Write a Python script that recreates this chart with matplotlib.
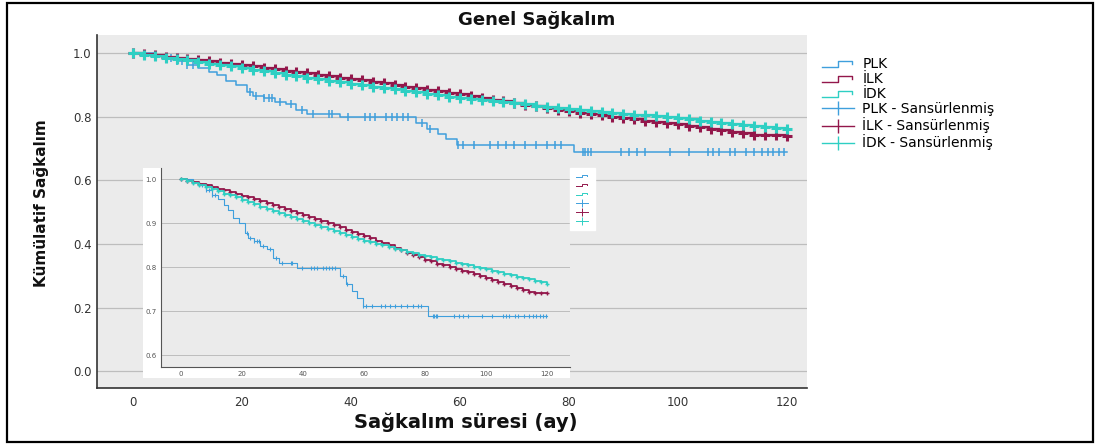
import numpy as np
import matplotlib
matplotlib.use('Agg')
import matplotlib.pyplot as plt
from matplotlib.lines import Line2D
from matplotlib.legend_handler import HandlerBase
from matplotlib.patches import Rectangle

# --- data (months, cumulative survival) ---
months = list(range(0, 121, 2))

ilk_surv = [1.000, 0.996, 0.993, 0.989, 0.986, 0.982, 0.978, 0.974, 0.970, 0.966,
            0.962, 0.958, 0.954, 0.950, 0.945, 0.941, 0.937, 0.932, 0.928, 0.923,
            0.919, 0.914, 0.909, 0.905, 0.900, 0.895, 0.890, 0.885, 0.880, 0.875,
            0.870, 0.865, 0.860, 0.854, 0.849, 0.844, 0.838, 0.833, 0.828, 0.822,
            0.817, 0.813, 0.808, 0.804, 0.800, 0.796, 0.792, 0.788, 0.784, 0.780,
            0.776, 0.771, 0.767, 0.762, 0.758, 0.753, 0.748, 0.744, 0.742, 0.741,
            0.740]

idk_surv = [1.000, 0.995, 0.991, 0.986, 0.982, 0.977, 0.972, 0.967, 0.963, 0.958,
            0.953, 0.948, 0.943, 0.937, 0.932, 0.927, 0.922, 0.918, 0.913, 0.909,
            0.904, 0.899, 0.895, 0.890, 0.886, 0.881, 0.877, 0.872, 0.868, 0.863,
            0.859, 0.856, 0.852, 0.849, 0.845, 0.842, 0.839, 0.835, 0.832, 0.828,
            0.825, 0.822, 0.819, 0.816, 0.813, 0.810, 0.807, 0.804, 0.801, 0.798,
            0.795, 0.792, 0.788, 0.785, 0.781, 0.778, 0.775, 0.772, 0.769, 0.765,
            0.762]

plk_times = [0, 4, 6, 8, 10, 12, 14, 15.5, 17, 19, 21, 22, 24, 26, 28, 30, 32,
             38, 52, 54, 56, 57.5, 59.5, 81]
plk_surv = [1.0, 0.994, 0.986, 0.974, 0.964, 0.954, 0.941, 0.930, 0.911, 0.900,
            0.877, 0.866, 0.859, 0.847, 0.840, 0.821, 0.810, 0.798, 0.780, 0.761,
            0.746, 0.729, 0.712, 0.688]
plk_censored = [7, 8, 9, 10, 11, 21.5, 22.5, 24, 25, 25.5, 27, 29, 31, 33, 36, 36.5,
                39.5, 42.5, 43.5, 44.5, 46.5, 47.5, 48.5, 49.5, 50.5, 53, 54.5,
                59.7, 60.5, 62.5, 65.5, 67, 68.5, 70, 72, 74, 76, 77.5, 78.5,
                82.5, 83, 83.5, 84, 89.5, 91, 92.5, 94, 98.5, 102, 105.5, 106.5,
                107.5, 109.5, 110.5, 112.5, 114, 115.5, 116.5, 117.5, 118.5, 119.5]
plk_end = 120

groups = ['PLK', 'İLK', 'İDK']
colors = ['#3F9FDC', '#93174B', '#2ECFC3']

W, H = 1097, 448


def km_at(t, times, surv):
    idx = np.searchsorted(times, t, side='right') - 1
    return np.asarray(surv)[idx]


def draw_km(ax, small=False):
    lw = 0.8 if small else 1.1
    ms_big = 3 if small else 7
    mew_big = 1.0 if small else 2.2
    ms_plk = 3 if small else 6
    px = np.append(plk_times, plk_end)
    py = np.append(plk_surv, plk_surv[-1])
    ax.step(px, py, where='post', color=colors[0], lw=lw, zorder=3)
    ax.plot(plk_censored, km_at(plk_censored, plk_times, plk_surv), ls='none',
            marker='|', ms=ms_plk, mew=lw, color=colors[0], zorder=3)
    for surv, c in ((ilk_surv, colors[1]), (idk_surv, colors[2])):
        ax.step(months, surv, where='post', color=c, lw=lw + 0.5, zorder=4)
        ax.plot(months, surv, ls='none', marker='+', ms=ms_big, mew=mew_big,
                color=c, zorder=4)


class StepHandler(HandlerBase):
    def create_artists(self, legend, orig_handle, xdescent, ydescent, width,
                       height, fontsize, trans):
        xs = [-xdescent + f * width for f in (0.0, 0.5, 0.5, 0.95, 0.95)]
        ys = [-ydescent + f * height for f in (0.15, 0.15, 0.75, 0.75, 0.45)]
        ln = Line2D(xs, ys, color=orig_handle.get_color(), lw=orig_handle.get_linewidth())
        ln.set_transform(trans)
        return [ln]


def legend_handles(lw, ms):
    steps = [Line2D([], [], color=c, lw=lw) for c in colors]
    cens = [Line2D([], [], color=c, lw=lw, marker='|', ms=ms, mew=lw) for c in colors]
    return steps, cens


fig = plt.figure(figsize=(W / 100, H / 100), dpi=100)
fig.patch.set_facecolor('white')

# main axes
ax = fig.add_axes([97 / W, 1 - 388 / H, (807 - 97) / W, (388 - 35) / H])
ax.set_facecolor('#EBEBEB')
draw_km(ax)
ax.set_xlim(-6.6, 123.7)
ax.set_ylim(-0.053, 1.057)
ax.set_xticks([0, 20, 40, 60, 80, 100, 120])
ax.set_yticks([0.0, 0.2, 0.4, 0.6, 0.8, 1.0])
ax.set_yticklabels(['0.0', '0.2', '0.4', '0.6', '0.8', '1.0'])
ax.tick_params(length=0, labelsize=8.5, labelcolor='#333333')
ax.tick_params(axis='y', pad=4)
ax.tick_params(axis='x', pad=6)
ax.grid(axis='y', color='#BDBDBD', lw=0.9)
ax.set_axisbelow(True)
for s in ('top', 'right'):
    ax.spines[s].set_visible(False)
for s in ('left', 'bottom'):
    ax.spines[s].set_color('#333333')
    ax.spines[s].set_linewidth(1.2)

fig.text(537 / W, 1 - 20 / H, 'Genel Sağkalım', ha='center', va='center',
         fontsize=13, fontweight='bold', color='#111111')
fig.text(466 / W, 1 - 422 / H, 'Sağkalım süresi (ay)', ha='center', va='center',
         fontsize=14, fontweight='bold', color='#111111')
fig.text(42 / W, 1 - 203 / H, 'Kümülatif Sağkalım', ha='center', va='center',
         rotation=90, fontsize=11, fontweight='bold', color='#111111')

steps, cens = legend_handles(1.0, 10)
hmap = {h: StepHandler() for h in steps}
fig.legend(steps + cens, groups + [g + ' - Sansürlenmiş' for g in groups],
           handler_map=hmap, loc='upper left', bbox_to_anchor=(822 / W, 1 - 57 / H),
           frameon=False, borderaxespad=0, borderpad=0, fontsize=10,
           handlelength=2.3, handletextpad=0.6, labelspacing=0.08)

# inset (zoomed copy of the same curves)
fig.add_artist(Rectangle((143 / W, 1 - 378 / H), (570 - 143) / W, (378 - 168) / H,
                         transform=fig.transFigure, facecolor='white',
                         edgecolor='none', zorder=1))
ax_in = fig.add_axes([161 / W, 1 - 367 / H, (570 - 161) / W, (367 - 168) / H])
ax_in.set_zorder(2)
ax_in.set_facecolor('#EBEBEB')
draw_km(ax_in, small=True)
ax_in.set_xlim(-6.6, 127.5)
ax_in.set_ylim(0.573, 1.025)
ax_in.set_xticks([0, 20, 40, 60, 80, 100, 120])
ax_in.set_yticks([0.6, 0.7, 0.8, 0.9, 1.0])
ax_in.set_yticklabels(['0.6', '0.7', '0.8', '0.9', '1.0'])
ax_in.tick_params(length=0, labelsize=5, labelcolor='#555555', pad=3)
ax_in.grid(axis='y', color='#BDBDBD', lw=0.7)
ax_in.set_axisbelow(True)
for s in ('top', 'right'):
    ax_in.spines[s].set_visible(False)
for s in ('left', 'bottom'):
    ax_in.spines[s].set_color('#555555')
    ax_in.spines[s].set_linewidth(0.8)

steps_s, cens_s = legend_handles(0.7, 6)
hmap_s = {h: StepHandler() for h in steps_s}
ax_in.legend(steps_s + cens_s, [' '] * 6, handler_map=hmap_s, loc='upper left',
             bbox_to_anchor=(1.0, 1.0), borderaxespad=0, frameon=True,
             facecolor='white', edgecolor='white', fancybox=False, framealpha=1,
             fontsize=4, handlelength=2.2, handletextpad=0, labelspacing=0.75,
             borderpad=1.0)

# outer frame
fig.add_artist(Rectangle((7 / W, 1 - 442 / H), (1093 - 7) / W, (442 - 3) / H,
                         transform=fig.transFigure, fill=False, edgecolor='black',
                         lw=1.6, zorder=5))

fig.savefig('out.png', dpi=100)
